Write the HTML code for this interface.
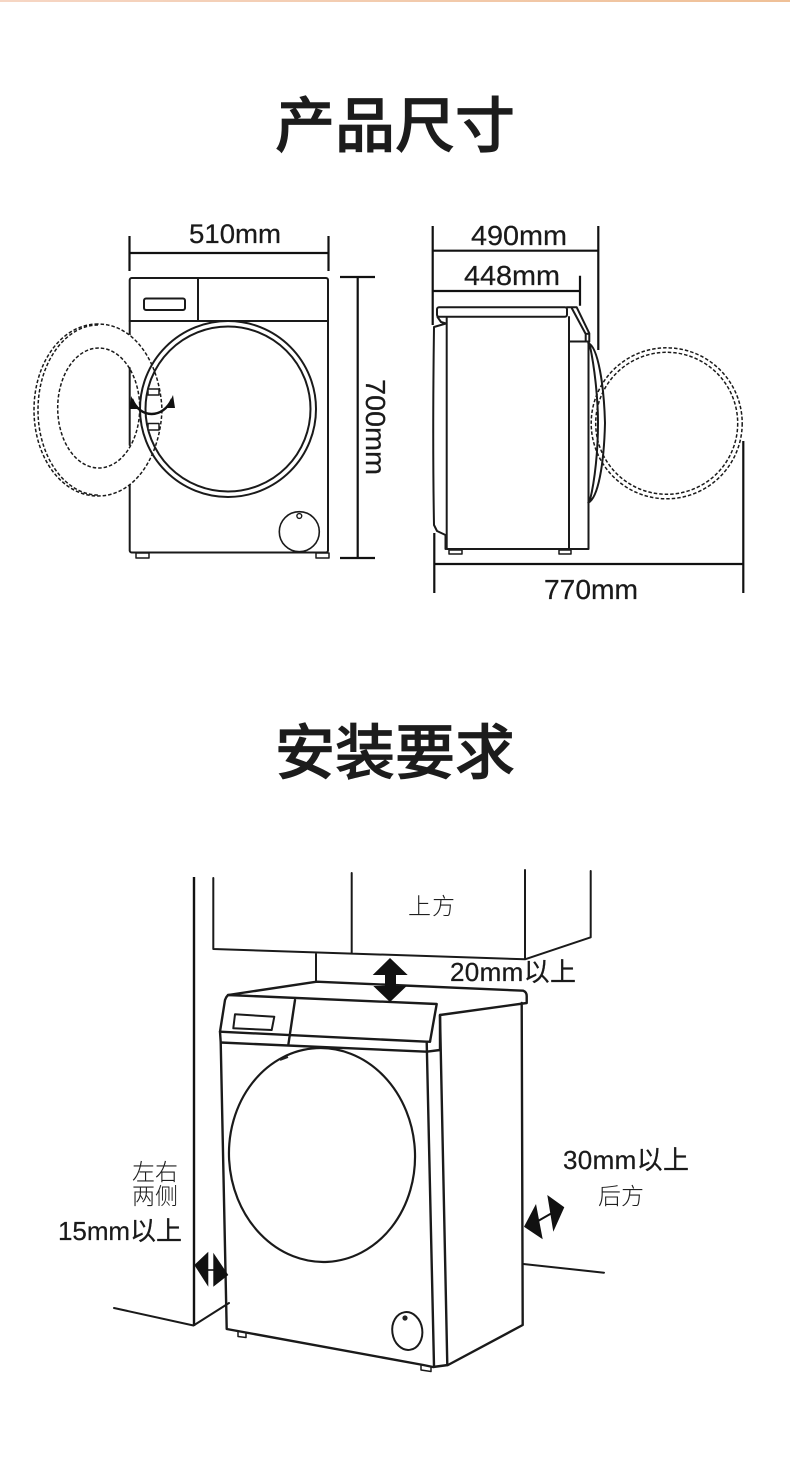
<!DOCTYPE html>
<html lang="zh"><head><meta charset="utf-8"><title>产品尺寸</title>
<style>
html,body{margin:0;padding:0;background:#fff;width:790px;height:1482px;overflow:hidden}
svg{display:block}
.t{font-family:"Liberation Sans","Noto Sans CJK SC",sans-serif;fill:#1a1a1a;stroke:#1a1a1a;stroke-width:.25}
.h{font-family:"Noto Sans CJK SC","Liberation Sans",sans-serif;font-size:60px;font-weight:500;fill:#1c1c1c;stroke:#1c1c1c;stroke-width:.8;text-anchor:middle}
.c{font-family:"Noto Sans CJK SC","WenQuanYi Zen Hei",sans-serif;font-size:23px;font-weight:300;fill:#1f1f1f}
.l{fill:none;stroke:#1a1a1a;stroke-width:2;stroke-linejoin:round;stroke-linecap:round}
.d{fill:none;stroke:#1a1a1a;stroke-width:1.5;stroke-dasharray:3.5 2}
.m{stroke:#111;stroke-width:2.2;fill:none}
</style></head><body>
<svg width="790" height="1482" viewBox="0 0 790 1482" xmlns="http://www.w3.org/2000/svg">
<defs><linearGradient id="g" x1="0" x2="1" y1="0" y2="0"><stop offset="0" stop-color="#f6d6c4"/><stop offset="1" stop-color="#efc097"/></linearGradient></defs>
<rect x="0" y="0" width="790" height="2" fill="url(#g)"/>

<text class="h" x="395" y="147">产品尺寸</text>
<text class="h" x="395" y="774">安装要求</text>

<!-- front view -->
<g>
<rect x="129.7" y="278" width="198.3" height="274.5" rx="2" class="l"/>
<path d="M129.7 321H328M198 278V321" class="l"/>
<rect x="144" y="298.5" width="41" height="11.5" rx="2" class="l"/>
<path d="M136 553h13v5h-13zM316 553h13v5h-13z" class="l" style="stroke-width:1.5"/>
<circle cx="299.3" cy="531.7" r="20" class="l" style="stroke-width:1.6"/>
<circle cx="299.3" cy="516" r="2.4" class="l" style="stroke-width:1.4"/>
<ellipse cx="98" cy="410" rx="64" ry="86.5" fill="#fff" stroke="none"/>
<path d="M129.7 368V445" class="l"/>
<path d="M98 324 C62 324 34 362 34 410 C34 458 62 496 98 496 C134 496 160 458 162 410 C160 362 134 324 98 324Z" class="d"/>
<path d="M98 325 C66 325 38 362 38 410 C38 458 66 495 98 495" class="d"/>
<ellipse cx="98.7" cy="408" rx="41" ry="60" class="d"/>
<circle cx="228" cy="409" r="88" class="l"/>
<circle cx="228" cy="409" r="82.5" class="l"/>
<rect x="148" y="389" width="11" height="6" class="l" style="fill:#fff;stroke-width:1.5"/>
<rect x="148" y="423.5" width="11" height="6.5" class="l" style="fill:#fff;stroke-width:1.5"/>
<path d="M132 399 C140 419 163 419 172 399" fill="none" stroke="#111" stroke-width="2.4"/>
<path d="M131 396 L138 409 L130 409Z M173 395 L175 408 L167 408Z" fill="#111"/>
</g>
<path class="m" d="M129.5 253H328.5M129.5 236V271M328.5 236V271M357.7 277V558M340 277H375M340 558H375"/>
<text class="t" x="189" y="243" font-size="27" textLength="92" lengthAdjust="spacingAndGlyphs">510mm</text>
<text class="t" font-size="28" transform="translate(366 379) rotate(90)" textLength="96" lengthAdjust="spacingAndGlyphs">700mm</text>

<!-- side view -->
<g>
<path class="l" d="M446.7 317V549H569V317M569 341.5H588.5V549H569"/>
<rect x="437" y="307.3" width="130" height="9.5" rx="2" class="l"/>
<path class="l" d="M566.7 307.3H576.7L589.3 333.3V341.7M571.7 308L585.7 334L589.3 333.5M585.7 334V341.5"/>
<path class="l" d="M437.5 317L441 322L446 323.5L434 327C433 400 433 470 434 525L437 531L445.5 535V549"/>
<path class="l" d="M588.3 343C598 347 604 385 605 423C604 465 598 498 588.3 502.7M590 346C595 370 598 400 598 423C598 450 595 480 590 500"/>
<path class="l" d="M449 554h13v-4h-13zM559 554h12v-4h-12z" style="stroke-width:1.5"/>
<circle cx="666.7" cy="423.3" r="75.5" class="d"/>
<circle cx="666.7" cy="423.3" r="71" class="d"/>
</g>
<path class="m" d="M432.7 226V325M598.3 226V350M432.7 250.7H598.3M432.7 291H580M580 275.7V305.7M434.3 564H743.3M434.3 533V593M743.3 441V593"/>
<text class="t" x="471" y="245" font-size="28" textLength="96" lengthAdjust="spacingAndGlyphs">490mm</text>
<text class="t" x="464" y="285" font-size="28" textLength="96" lengthAdjust="spacingAndGlyphs">448mm</text>
<text class="t" x="544" y="599" font-size="28" textLength="94" lengthAdjust="spacingAndGlyphs">770mm</text>

<!-- install -->
<g>
<path class="l" d="M213.3 878V949L525 959.3L590.7 937.3V871M351.7 873V953M525 870V959M316 953V981"/>
<path d="M194 877V1326" stroke="#111" stroke-width="2.4" fill="none"/>
<path class="l" d="M114 1308L193.5 1325.5L229 1303"/>
<path class="l" d="M523.3 1264L604 1272.7"/>
<path class="l" style="stroke-width:2.4" d="M228 995L316.7 981.7L523.3 990.7Q526.7 992 526.7 996V1003L440 1015V1050M228 995L436.7 1004L430 1041.7M228 995Q226 997 225 1000L220 1031.7L220.7 1042L226.7 1329L423.3 1365L433 1367L448 1365L522.7 1325L521.7 1003"/>
<path class="l" style="stroke-width:2.4" d="M220 1031.7L426.7 1041.7L430 1041.7M220.7 1042.5L426.7 1051.7L440 1050M295 1000L288.3 1045M426.7 1041.7L434 1366M440 1015L447.3 1365"/>
<path class="l" d="M235 1014.3L274.3 1016.7L271.7 1030L233.3 1028.3Z"/>
<ellipse cx="322" cy="1155" rx="93" ry="107" class="l" style="stroke-width:2.2" transform="rotate(-3 322 1155)"/>
<path d="M280 1060L288 1057" stroke="#222" stroke-width="2"/>
<ellipse cx="407.3" cy="1331" rx="15" ry="19" class="l" transform="rotate(-8 407.3 1331)"/>
<circle cx="405" cy="1318" r="2.6" fill="#222"/>
<path class="l" style="stroke-width:1.5" d="M238 1332V1336.5L246 1337.5V1333.5M421 1366V1370L431 1371.5V1367"/>
<path fill="#111" d="M390 958L407.7 975H396V986H406.7L390 1002L373.3 986H385V975H372.7Z"/>
<path fill="#111" d="M194.3 1265L208.3 1251.7V1286.7Z M228.3 1275L213.3 1252.7V1286.7Z"/>
<path stroke="#111" stroke-width="1.6" d="M208 1270H214"/>
<path fill="#111" d="M524 1226.7L536 1204L542.7 1239.3Z M564.3 1207.3L547.3 1195L553.3 1231.7Z"/>
<path stroke="#111" stroke-width="2" d="M538 1221L552 1213"/>
</g>
<text class="c" x="408" y="914" textLength="47">上方</text>
<text class="t" x="450" y="981" font-size="26" textLength="126">20mm以上</text>
<text class="c" x="132" y="1180" textLength="46">左右</text>
<text class="c" x="132" y="1204" textLength="46">两侧</text>
<text class="t" x="58" y="1240" font-size="26" textLength="124">15mm以上</text>
<text class="t" x="563" y="1169" font-size="26" textLength="126">30mm以上</text>
<text class="c" x="598" y="1204" textLength="46">后方</text>
</svg>
</body></html>
